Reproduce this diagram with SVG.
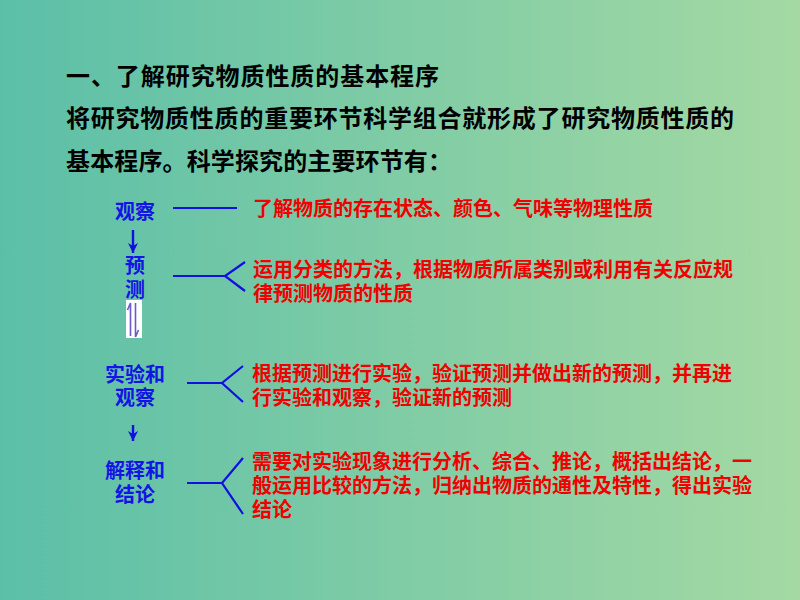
<svg xmlns="http://www.w3.org/2000/svg" width="800" height="600" viewBox="0 0 800 600">
<defs>
<linearGradient id="bg" x1="0" y1="0" x2="1" y2="0">
<stop offset="0" stop-color="#5BBFA8"/>
<stop offset="1" stop-color="#A4D9A3"/>
</linearGradient>
<marker id="ah" viewBox="0 0 10 10" refX="10" refY="5" markerWidth="11" markerHeight="10" markerUnits="userSpaceOnUse" orient="auto">
<path d="M0,0 L10,5 L0,10 L3,5 Z" fill="#1010E0"/>
</marker>
</defs>
<style>
text{font-family:"Noto Sans CJK SC","Noto Sans",sans-serif;}
.h{font-size:24px;fill:#000;font-weight:bold;}
.b{font-size:20px;fill:#1414E6;font-weight:bold;text-anchor:middle;}
.r{font-size:20px;fill:#F00000;font-weight:bold;}
.ln{stroke:#1010E0;stroke-width:2.2;fill:none;}
.ar{stroke:#1010E0;stroke-width:2.4;fill:none;}
</style>
<rect width="800" height="600" fill="url(#bg)"/>
<g id="heading">
<text class="h" x="66" y="85" textLength="373" lengthAdjust="spacing">一、了解研究物质性质的基本程序</text>
<text class="h" x="66" y="127" textLength="668" lengthAdjust="spacing">将研究物质性质的重要环节科学组合就形成了研究物质性质的</text>
<text class="h" x="66" y="170" textLength="386" lengthAdjust="spacing">基本程序。科学探究的主要环节有：</text>
</g>
<g id="node-observe">
<text class="b" x="135" y="219">观察</text>
<text class="r" x="253" y="216">了解物质的存在状态、颜色、气味等物理性质</text>
</g>
<g id="node-predict">
<text class="b" x="135" y="273">预<tspan x="135" dy="24">测</tspan></text>
<text class="r" x="253" y="277">运用分类的方法，根据物质所属类别或利用有关反应规<tspan x="253" dy="24">律预测物质的性质</tspan></text>
</g>
<g id="node-experiment">
<text class="b" x="135" y="382">实验和<tspan x="135" dy="23">观察</tspan></text>
<text class="r" x="252" y="381">根据预测进行实验，验证预测并做出新的预测，并再进<tspan x="252" dy="24">行实验和观察，验证新的预测</tspan></text>
</g>
<g id="node-explain">
<text class="b" x="135" y="478">解释和<tspan x="135" dy="24">结论</tspan></text>
<text class="r" x="252" y="469">需要对实验现象进行分析、综合、推论，概括出结论，一<tspan x="252" dy="24">般运用比较的方法，归纳出物质的通性及特性，得出实验</tspan><tspan x="252" dy="24">结论</tspan></text>
</g>
<g id="connectors">
<line class="ln" x1="173" y1="208" x2="237" y2="208"/>
<path class="ln" d="M173,276 H225 M245,262 L225,276 L245,291"/>
<path class="ln" d="M187,383 H222 M243,366 L222,383 L243,402"/>
<path class="ln" d="M187,483 H222 M243,458 L222,483 L243,514"/>
<line class="ar" x1="133" y1="230" x2="133" y2="253" marker-end="url(#ah)"/>
<line class="ar" x1="133" y1="425" x2="133" y2="441" marker-end="url(#ah)"/>
<rect x="126" y="300" width="16" height="38" fill="#FFFFFF"/>
<path d="M130.5,336 V303 L127.5,310 M135.5,303 V337 L138.5,330" stroke="#6A5ACD" stroke-width="1.6" fill="none"/>
</g>
</svg>
